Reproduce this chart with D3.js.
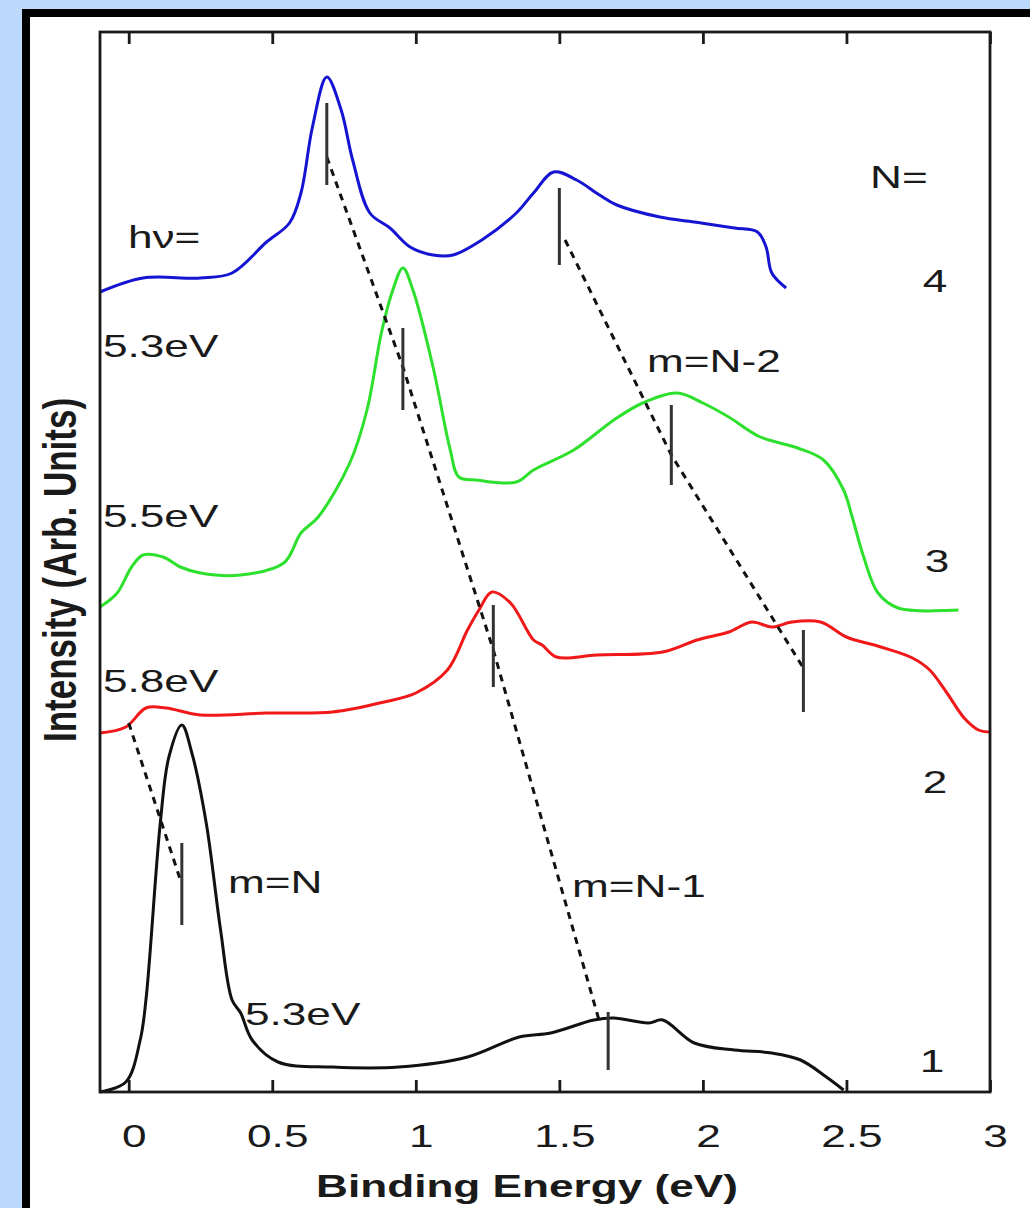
<!DOCTYPE html>
<html lang="en">
<head>
<meta charset="utf-8" />
<title>Binding energy spectra</title>
<style>
  body { margin: 0; background: #bcd9fb; }
  svg { display: block; }
  text { font-family: "Liberation Sans", Arial, sans-serif; fill: #1a1a1a; }
</style>
</head>
<body>
<svg id="chart" width="1030" height="1208"></svg>
<script src="https://d3js.org/d3.v7.min.js"></script>
<script>
// N = 4 (blue), hv = 5.3 eV
const energy4 = [-0.10, 0.05, 0.25, 0.36, 0.48, 0.56, 0.60, 0.64, 0.69, 0.74, 0.78, 0.84, 0.91, 0.98, 1.06, 1.13, 1.23, 1.35, 1.41, 1.48, 1.56, 1.64, 1.70, 1.85, 1.97, 2.11, 2.19, 2.22, 2.24, 2.29];
const intensity4 = [8.00, 8.14, 8.14, 8.19, 8.50, 8.69, 8.99, 9.65, 10.15, 9.82, 9.32, 8.79, 8.64, 8.45, 8.37, 8.37, 8.52, 8.79, 8.99, 9.20, 9.12, 8.97, 8.87, 8.75, 8.70, 8.64, 8.60, 8.45, 8.19, 8.04];

// N = 3 (green), hv = 5.5 eV
const energy3 = [-0.10, -0.04, 0.01, 0.05, 0.12, 0.18, 0.25, 0.39, 0.54, 0.60, 0.66, 0.77, 0.83, 0.88, 0.92, 0.955, 0.99, 1.06, 1.12, 1.15, 1.21, 1.35, 1.41, 1.55, 1.69, 1.79, 1.91, 2.00, 2.09, 2.20, 2.33, 2.42, 2.49, 2.52, 2.56, 2.61, 2.68, 2.89];
const intensity3 = [4.85, 4.99, 5.25, 5.37, 5.35, 5.25, 5.19, 5.17, 5.29, 5.59, 5.75, 6.29, 6.82, 7.59, 8.02, 8.24, 8.02, 7.25, 6.42, 6.15, 6.12, 6.10, 6.22, 6.42, 6.72, 6.89, 6.99, 6.89, 6.75, 6.55, 6.44, 6.32, 6.02, 5.75, 5.35, 4.99, 4.84, 4.82];

// N = 2 (red), hv = 5.8 eV
const energy2 = [-0.10, -0.01, 0.06, 0.13, 0.25, 0.48, 0.71, 0.89, 1.00, 1.11, 1.18, 1.22, 1.265, 1.33, 1.41, 1.44, 1.49, 1.63, 1.86, 1.98, 2.09, 2.17, 2.24, 2.31, 2.41, 2.50, 2.62, 2.73, 2.79, 2.85, 2.91, 2.96, 3.00];
const intensity2 = [3.59, 3.65, 3.84, 3.84, 3.77, 3.79, 3.80, 3.90, 3.99, 4.22, 4.62, 4.82, 5.00, 4.89, 4.52, 4.47, 4.35, 4.37, 4.40, 4.52, 4.60, 4.70, 4.65, 4.70, 4.70, 4.55, 4.45, 4.34, 4.22, 3.99, 3.74, 3.62, 3.60];

// N = 1 (black), hv = 5.3 eV
const energy1 = [-0.10, -0.01, 0.04, 0.06, 0.11, 0.14, 0.185, 0.22, 0.27, 0.32, 0.36, 0.39, 0.43, 0.52, 0.71, 0.94, 1.18, 1.36, 1.47, 1.62, 1.69, 1.81, 1.86, 1.97, 2.11, 2.24, 2.34, 2.43, 2.49];
const intensity1 = [0.00, 0.10, 0.52, 0.92, 2.69, 3.35, 3.67, 3.39, 2.69, 1.62, 0.92, 0.79, 0.52, 0.30, 0.25, 0.25, 0.35, 0.55, 0.59, 0.72, 0.74, 0.69, 0.72, 0.49, 0.42, 0.39, 0.32, 0.15, 0.02];

// peak markers: energy, bottom, top
const markerE = [0.69, 1.50, 0.955, 1.89, 1.27, 2.35, 0.185, 1.67];
const markerLo = [9.07, 8.27, 6.82, 6.07, 4.05, 3.80, 1.67, 0.22];
const markerHi = [9.89, 9.04, 7.64, 6.87, 4.87, 4.62, 2.49, 0.80];

// dispersion guides
const guideNE = [0.00, 0.18];
const guideNI = [3.69, 2.12];
const guideN1E = [0.69, 0.955, 1.27, 1.64];
const guideN1I = [9.35, 7.25, 4.42, 0.70];
const guideN2E = [1.52, 1.89, 2.35];
const guideN2I = [8.52, 6.37, 4.24];

const xTicks = [0, 0.5, 1, 1.5, 2, 2.5, 3];

const svg = d3.select("#chart");

// background and frame
svg.append("rect").attr("width", 1030).attr("height", 1208).attr("fill", "#bcd9fb");
svg.append("rect")
  .attr("x", 26).attr("y", 13).attr("width", 1040).attr("height", 1220)
  .attr("fill", "#ffffff").attr("stroke", "#000").attr("stroke-width", 8);

const plotLeft = 100, plotRight = 990, plotTop = 32, plotBottom = 1092;

const x = d3.scaleLinear().domain([-0.1, 3.0]).range([plotLeft, plotRight]);
const y = d3.scaleLinear().domain([0, 10.6]).range([plotBottom, plotTop]);

const SX = 1.38; // the original figure is stretched sideways

function label(px, py, str, size, anchor, weight) {
  svg.append("text")
    .attr("transform", "translate(" + px + "," + py + ") scale(" + SX + ",1)")
    .attr("text-anchor", anchor || "start")
    .style("font-size", size + "px")
    .style("font-weight", weight || "normal")
    .text(str);
}

// curves
const line = d3.line().x(d => x(d[0])).y(d => y(d[1])).curve(d3.curveCatmullRom.alpha(0.5));
const straight = d3.line().x(d => x(d[0])).y(d => y(d[1]));
const series = [
  { e: energy1, v: intensity1, color: "#111111" },
  { e: energy2, v: intensity2, color: "#f01818" },
  { e: energy3, v: intensity3, color: "#2ee02e" },
  { e: energy4, v: intensity4, color: "#1414d2" }
];
series.forEach(function (s) {
  svg.append("path")
    .datum(s.e.map((e, i) => [e, s.v[i]]))
    .attr("d", line)
    .attr("fill", "none")
    .attr("stroke", s.color)
    .attr("stroke-width", 3)
    .attr("stroke-linejoin", "round");
});

// dashed guides
[[guideNE, guideNI], [guideN1E, guideN1I], [guideN2E, guideN2I]].forEach(function (g) {
  svg.append("path")
    .datum(g[0].map((e, i) => [e, g[1][i]]))
    .attr("d", straight)
    .attr("fill", "none")
    .attr("stroke", "#111")
    .attr("stroke-width", 3)
    .attr("stroke-dasharray", "7,6");
});

// peak markers
svg.selectAll(".marker")
  .data(markerE)
  .join("line")
  .attr("class", "marker")
  .attr("x1", d => x(d)).attr("x2", d => x(d))
  .attr("y1", (d, i) => y(markerLo[i]))
  .attr("y2", (d, i) => y(markerHi[i]))
  .attr("stroke", "#333")
  .attr("stroke-width", 3);

// axes
const xAxis = svg.append("g")
  .attr("transform", "translate(0," + plotBottom + ")")
  .call(d3.axisBottom(x).tickValues(xTicks).tickSizeInner(-12).tickSizeOuter(0).tickFormat(d => String(d)));
xAxis.select(".domain").remove();
xAxis.selectAll("line").attr("stroke", "#1a1a1a").attr("stroke-width", 2.8);
xAxis.selectAll("text")
  .attr("x", 0).attr("y", 0).attr("dy", null)
  .attr("fill", "#1a1a1a")
  .attr("transform", "translate(5,55) scale(" + SX + ",1)")
  .style("font-size", "32px")
  .style("font-family", "'Liberation Sans', Arial, sans-serif");

const xAxisTop = svg.append("g")
  .attr("transform", "translate(0," + plotTop + ")")
  .call(d3.axisTop(x).tickValues(xTicks).tickSizeInner(-12).tickSizeOuter(0).tickFormat(""));
xAxisTop.select(".domain").remove();
xAxisTop.selectAll("line").attr("stroke", "#1a1a1a").attr("stroke-width", 2.8);

svg.append("rect")
  .attr("x", plotLeft).attr("y", plotTop)
  .attr("width", plotRight - plotLeft).attr("height", plotBottom - plotTop)
  .attr("fill", "none").attr("stroke", "#1a1a1a").attr("stroke-width", 2.8);

// axis titles
label(527, 1197, "Binding Energy (eV)", 32, "middle", "bold");
svg.append("text")
  .attr("transform", "translate(76,570) scale(1.3,1) rotate(-90)")
  .attr("text-anchor", "middle")
  .style("font-size", "35px")
  .style("font-weight", "bold")
  .text("Intensity (Arb. Units)");

// annotations
label(128, 248, "hν=", 32);
label(103, 357, "5.3eV", 32);
label(103, 527, "5.5eV", 32);
label(103, 692, "5.8eV", 32);
label(245, 1025, "5.3eV", 32);
label(870, 188, "N=", 32);
label(935, 292, "4", 32, "middle");
label(937, 572, "3", 32, "middle");
label(935, 793, "2", 32, "middle");
label(932, 1072, "1", 32, "middle");
label(647, 372, "m=N-2", 32);
label(228, 893, "m=N", 32);
label(572, 897, "m=N-1", 32);
</script>
</body>
</html>
